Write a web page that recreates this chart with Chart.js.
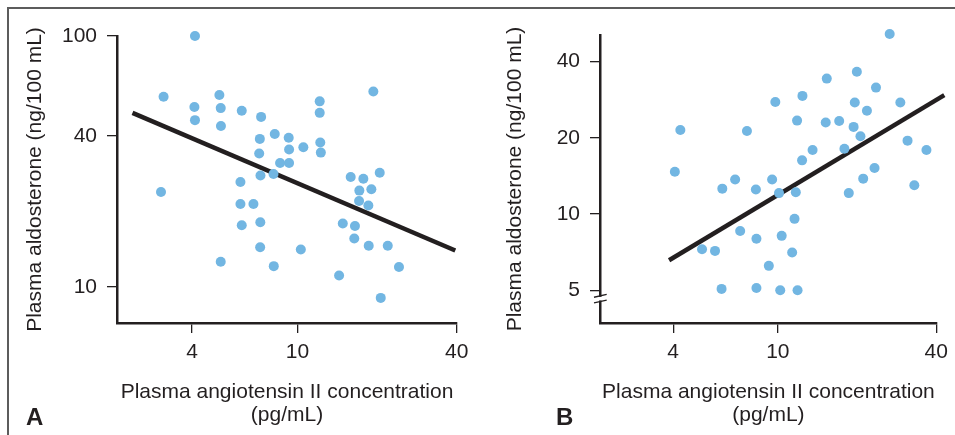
<!DOCTYPE html>
<html><head><meta charset="utf-8">
<script src="https://cdn.jsdelivr.net/npm/chart.js@4.4.0/dist/chart.umd.min.js"></script>
<style>
html,body{margin:0;padding:0;background:#fff;}
#wrap{position:relative;width:955px;height:435px;overflow:hidden;background:#fff;font-family:"Liberation Sans",Arial,sans-serif;}
#frame{position:absolute;left:7px;top:7px;width:970px;height:450px;border-top:2px solid #5c5c5c;border-left:2px solid #5c5c5c;}
canvas{position:absolute;top:0;}
#cA{left:0;width:478px;height:435px;}
#cB{left:478px;width:477px;height:435px;}
.lbl{position:absolute;font-weight:bold;font-size:24px;line-height:24px;color:#231f20;font-family:"Liberation Sans",Arial,sans-serif;}
</style></head>
<body><div id="wrap"><div id="frame"></div>
<canvas id="cA" width="478" height="435"></canvas>
<canvas id="cB" width="477" height="435"></canvas>
<div class="lbl" style="left:26px;top:405px">A</div>
<div class="lbl" style="left:556px;top:405px">B</div>
</div>
<script>
// ---- data ----
const xTickValues = [4, 10, 40];
const yTicksA = [10, 40, 100];
const yTicksB = [5, 10, 20, 40];

const angiotensinA = [4.1, 3.12, 3.05, 4.08, 4.1, 5.07, 5.13, 5.14, 5.13, 6.16,
  7.29, 7.21, 7.17, 8.21, 9.27, 9.3, 10.53, 8.6, 9.3, 7.25,
  8.12, 6.09, 6.09, 6.82, 6.16, 7.24, 7.23, 8.14, 10.3, 12.14,
  12.14, 12.2, 12.26, 19.36, 15.9, 17.75, 20.47, 17.14, 19.03, 17.1,
  18.54, 14.84, 16.5, 16.4, 18.6, 21.95, 14.37, 24.2, 20.65];
const aldosteroneA = [100, 57.3, 23.9, 52.1, 46.2, 58.2, 51.6, 43.8, 12.6, 50.4,
  47.6, 38.9, 34.0, 40.7, 39.3, 35.3, 36.0, 31.2, 31.2, 27.8,
  28.2, 26.2, 21.4, 21.4, 17.6, 18.1, 14.4, 12.1, 14.1, 54.9,
  49.4, 37.6, 34.3, 60.1, 27.4, 27.0, 28.5, 24.2, 24.5, 22.0,
  21.1, 17.9, 17.5, 15.6, 14.6, 14.6, 11.1, 12.0, 9.04];

const angiotensinB = [26.6, 19.96, 15.34, 23.6, 9.78, 12.4, 19.6, 29.2, 21.8, 4.26,
  7.63, 11.83, 15.2, 17.1, 19.4, 20.6, 31.1, 36.7, 13.55, 17.9,
  12.36, 4.06, 23.3, 21.1, 6.88, 9.51, 6.15, 8.25, 10.1, 11.7,
  18.6, 33.0, 11.57, 7.19, 10.34, 8.29, 5.15, 5.77, 11.33, 9.24,
  6.11, 8.29, 10.21, 11.88];
const aldosteroneB = [51.5, 36.5, 34.3, 31.6, 27.7, 29.3, 27.6, 27.6, 25.6, 21.5,
  21.3, 23.4, 23.0, 23.3, 22.1, 20.3, 19.5, 17.9, 17.9, 18.1,
  16.3, 14.7, 15.2, 13.8, 13.7, 13.7, 12.6, 12.5, 12.1, 12.2,
  12.1, 13.0, 9.57, 8.57, 8.2, 7.98, 7.26, 7.15, 7.05, 6.24,
  5.06, 5.1, 5.0, 5.0];

const fitLineA_x = [2.38, 39.5];
const fitLineA_y = [49.4, 13.97];
const fitLineB_x = [3.86, 42.9];
const fitLineB_y = [6.57, 29.5];

const xTitleLines = ['Plasma angiotensin II concentration', '(pg/mL)'];
const yTitleText = 'Plasma aldosterone (ng/100 mL)';

// ---- styling ----
const INK = '#231f20';
const DOT = '#72b6e2';
const FAMILY = '"Liberation Sans", Arial, Helvetica, sans-serif';

const breakPlugin = {
  id: 'axisBreak',
  afterDraw(chart, args, opts) {
    if (!opts || !opts.value) return;
    const ys = chart.scales.y, ctx = chart.ctx;
    const x = chart.chartArea.left;
    const y0 = ys.getPixelForValue(opts.value);
    ctx.save();
    ctx.fillStyle = '#fff';
    ctx.fillRect(x - 2.5, y0 - 1.8, 5, 3.6);
    ctx.strokeStyle = INK;
    ctx.lineWidth = 1.3;
    for (const d of [-2.8, 2.8]) {
      ctx.beginPath();
      ctx.moveTo(x - 6, y0 + d + 1.4);
      ctx.lineTo(x + 6.7, y0 + d - 1.4);
      ctx.stroke();
    }
    ctx.restore();
  }
};

function buildChart(id, p) {
  const pts = p.xs.map((x, i) => ({x: x, y: p.ys[i]}));
  const fit = p.fx.map((x, i) => ({x: x, y: p.fy[i]}));
  return new Chart(document.getElementById(id), {
    type: 'scatter',
    data: {datasets: [
      {data: pts, pointRadius: 5, pointHoverRadius: 5, pointBackgroundColor: DOT,
       pointBorderWidth: 0, borderWidth: 0, clip: false, order: 0},
      {data: fit, showLine: true, borderColor: INK, borderWidth: 4.5, pointRadius: 0,
       pointHoverRadius: 0, fill: false, clip: false, order: 1}
    ]},
    options: {
      responsive: false, animation: false, devicePixelRatio: 1,
      events: [],
      layout: {padding: {left: 0, right: p.padR, top: p.padT, bottom: 0}},
      plugins: {legend: {display: false}, tooltip: {enabled: false},
                axisBreak: {value: p.breakAt || 0}},
      scales: {
        x: {
          type: 'logarithmic', position: 'bottom', min: p.xMin, max: p.xMax,
          afterBuildTicks: s => { s.ticks = xTickValues.map(v => ({value: v})); },
          afterFit: s => { s.height = 112; },
          border: {display: true, color: INK, width: 2.5},
          grid: {display: true, drawOnChartArea: false, drawTicks: true, tickLength: 10, color: INK, lineWidth: 1.3},
          ticks: {color: INK, font: {family: FAMILY, size: 21}, padding: 7, maxRotation: 0, autoSkip: false,
                  callback: v => String(v)},
          title: {display: true, text: xTitleLines, color: INK,
                  font: {family: FAMILY, size: 21, lineHeight: 1.12}, padding: {top: 0, bottom: 8}}
        },
        y: {
          type: 'logarithmic', position: 'left', min: p.yMin, max: p.yMax,
          afterBuildTicks: s => { s.ticks = p.yTicks.map(v => ({value: v})); },
          afterFit: s => { s.width = p.yW; },
          border: {display: true, color: INK, width: 2.5},
          grid: {display: true, drawOnChartArea: false, drawTicks: true, tickLength: 10, color: INK, lineWidth: 1.3},
          ticks: {color: INK, font: {family: FAMILY, size: 21}, padding: 10, autoSkip: false,
                  callback: v => String(v)},
          title: {display: true, text: yTitleText, color: INK,
                  font: {family: FAMILY, size: 21, lineHeight: 1.12}, padding: {top: p.yTitlePad, bottom: 0}}
        }
      }
    },
    plugins: [breakPlugin]
  });
}

buildChart('cA', {xs: angiotensinA, ys: aldosteroneA, fx: fitLineA_x, fy: fitLineA_y,
  yTicks: yTicksA, xMin: 2.08, xMax: 40.1, yMin: 7.18, yMax: 100,
  padR: 21, padT: 36, yW: 117, yTitlePad: 23.2});
buildChart('cB', {xs: angiotensinB, ys: aldosteroneB, fx: fitLineB_x, fy: fitLineB_y,
  yTicks: yTicksB, xMin: 2.109, xMax: 40.2, yMin: 3.71, yMax: 51.0,
  padR: 14, padT: 35, yW: 122, yTitlePad: 25.2, breakAt: 4.63});
</script>
</body></html>
